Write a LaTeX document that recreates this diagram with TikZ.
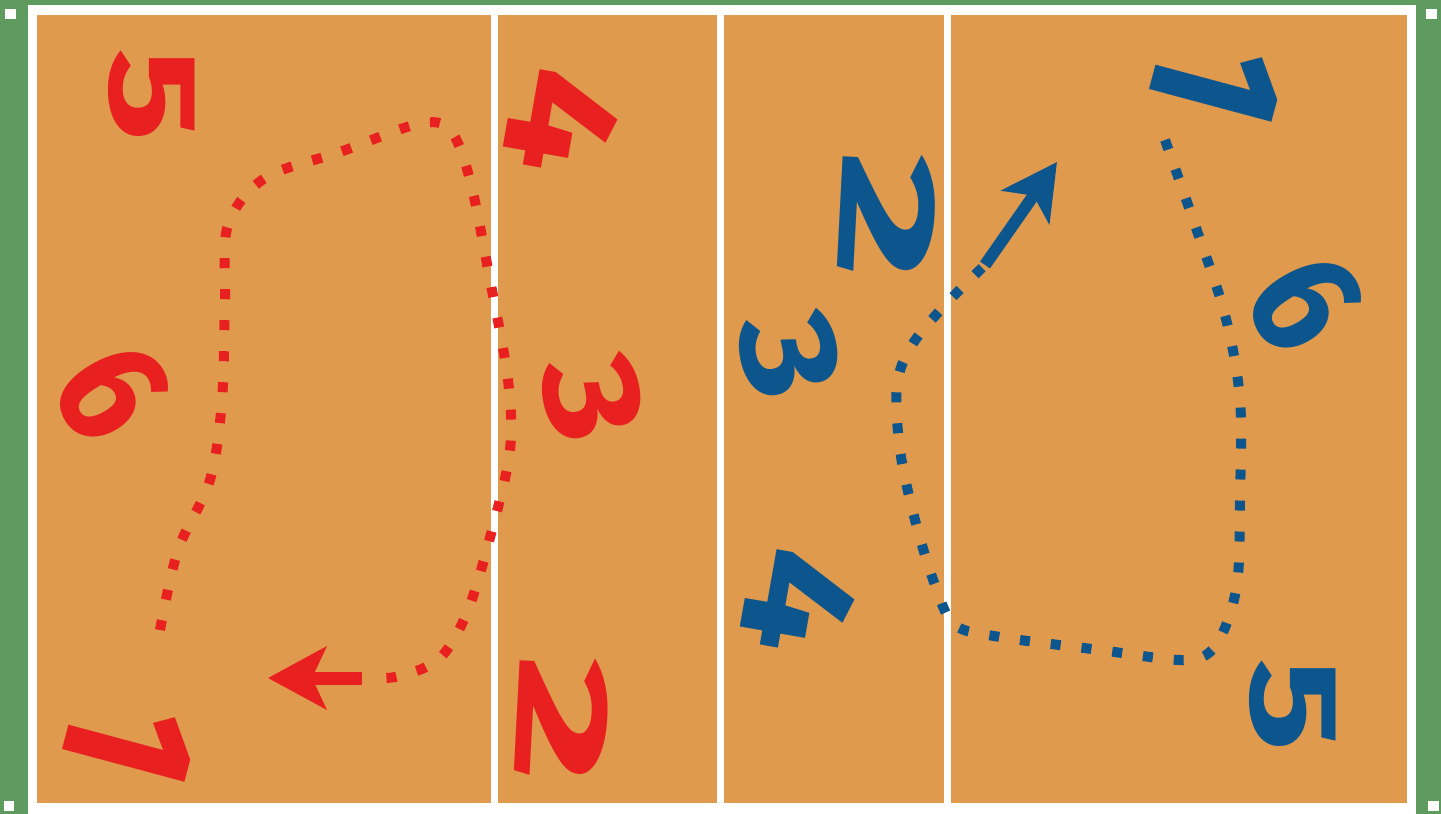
\documentclass[tikz,border=0pt]{standalone}
\usepackage{fontspec}
\newfontfamily\digitfont{Fira Sans}
\usetikzlibrary{arrows.meta}
\definecolor{grassgreen}{HTML}{5F9B5E}
\definecolor{courtorange}{HTML}{E09A4E}
\definecolor{teamred}{HTML}{E8201F}
\definecolor{teamblue}{HTML}{0C568D}
\newcommand\handdigit[3]{\scalebox{#1}[#2]{#3}}
\tikzset{
  digit/.style={font=\digitfont\bfseries\fontsize{125}{125}\selectfont, inner sep=0pt},
  reddigit/.style={digit, text=teamred},
  bluedigit/.style={digit, text=teamblue},
  dotline/.style={line width=10pt, dash pattern=on 10pt off 21pt},
  courtline/.style={white, line width=7pt},
  postmark/.style={fill=white, draw=none},
}
\begin{document}
\begin{tikzpicture}[x=1pt,y=-1pt]
\useasboundingbox (0,0) rectangle (1441,814);
% background and court
\fill[grassgreen] (0,0) rectangle (1441,814);
\fill[white] (28,5) rectangle (1416,814);
\fill[courtorange] (37,15) rectangle (1407,803);
\draw[courtline] (494,15) -- (494,803);
\draw[courtline] (720,15) -- (720,803);
\draw[courtline] (947,15) -- (947,803);
% small marks
\fill[postmark] (5,9) rectangle (16,19);
\fill[postmark] (4,801) rectangle (14,811);
\fill[postmark] (1426,9) rectangle (1437,19);
\fill[postmark] (1428,801) rectangle (1439,811);
% red digits
\node[reddigit, rotate=-90] (r5) at (152,95) {\handdigit{1.4}{1.0}{5}};
\node[reddigit, rotate=-100] (r4) at (563,122) {\handdigit{1.5}{1.25}{4}};
\node[reddigit, rotate=-60] (r6) at (112,392) {\handdigit{1.1}{1.25}{6}};
\node[reddigit, rotate=-78] (r3) at (593,398) {\handdigit{1.3}{1.1}{3}};
\node[reddigit, rotate=-105] (r1) at (130,742) {\handdigit{1.3}{1.5}{1}};
\node[reddigit, rotate=-93] (r2) at (562,720) {\handdigit{2.0}{1.05}{2}};
% blue digits
\node[bluedigit, rotate=-105] (b1) at (1217,82) {\handdigit{1.3}{1.5}{1}};
\node[bluedigit, rotate=-93] (b2) at (887,217) {\handdigit{2.0}{1.1}{2}};
\node[bluedigit, rotate=-60] (b6) at (1305,303) {\handdigit{1.1}{1.25}{6}};
\node[bluedigit, rotate=-78] (b3) at (790,355) {\handdigit{1.3}{1.1}{3}};
\node[bluedigit, rotate=-100] (b4) at (800,602) {\handdigit{1.5}{1.25}{4}};
\node[bluedigit, rotate=-90] (b5) at (1293,705) {\handdigit{1.4}{1.0}{5}};
% red path
\coordinate (rs) at (160,630);
\coordinate (re) at (372,678);
\coordinate (rshaft) at (362,678);
\coordinate (rtip) at (268,678);
\draw[dotline, teamred] plot[smooth, tension=0.55] coordinates {(rs) (178,550) (210,480) (222,400) (225,300) (228,225) (265,178) (340,152) (418,124) (450,130) (470,180) (490,280) (508,380) (510,450) (492,530) (468,610) (440,658) (400,676) (re)};
\draw[teamred, line width=13pt, -{Stealth[length=58pt,width=62pt,inset=14pt]}] (rshaft) -- (rtip);
% blue path
\coordinate (bs) at (1165,140);
\coordinate (be) at (985,265);
\coordinate (btip) at (1057,162);
\draw[dotline, teamblue] plot[smooth, tension=0.55] coordinates {(bs) (1195,225) (1225,315) (1240,400) (1240,500) (1238,575) (1228,620) (1210,652) (1180,660) (1100,650) (1000,637) (955,625) (935,585) (915,520) (900,450) (897,385) (912,345) (945,305) (be)};
\draw[teamblue, line width=12pt, -{Stealth[length=55pt,width=58pt,inset=14pt]}] (be) -- (btip);
\end{tikzpicture}
\end{document}
